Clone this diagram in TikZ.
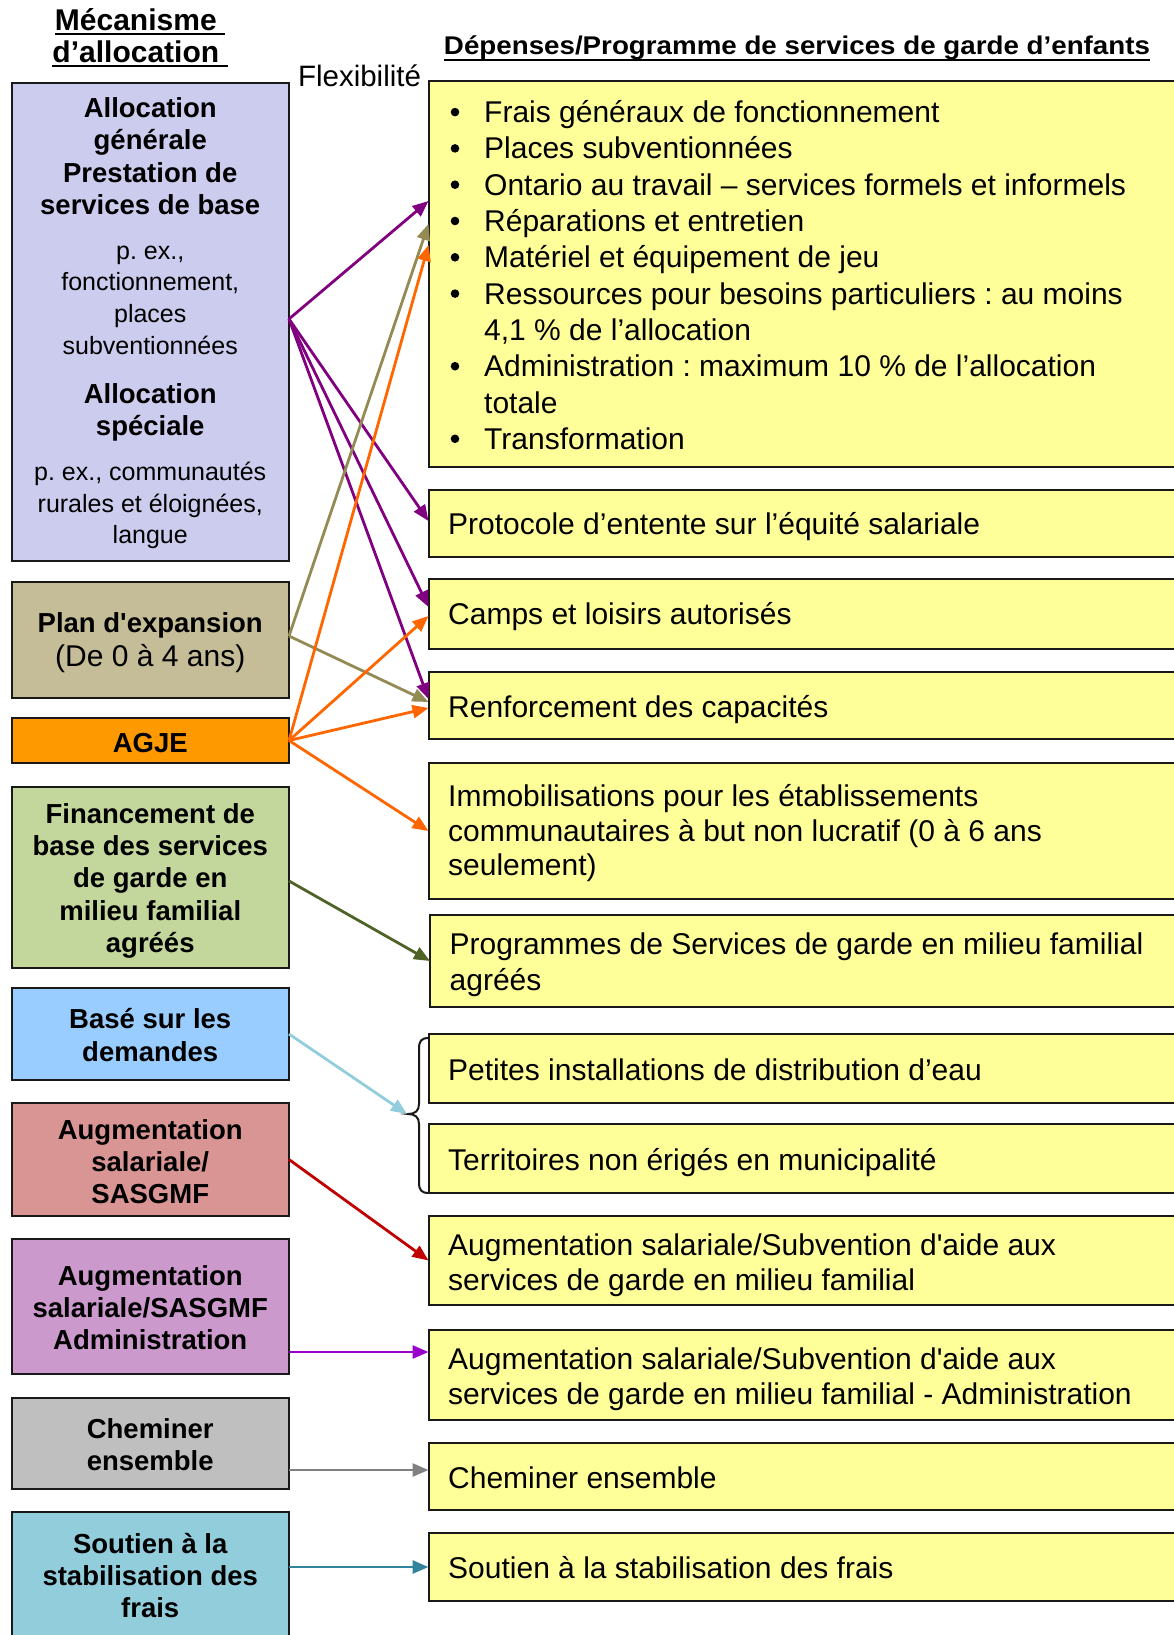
\documentclass[tikz,border=0pt]{standalone}
\usepackage{fontspec}
\setmainfont{Liberation Sans}
\usepackage{graphicx}
\usetikzlibrary{arrows.meta,calc}
\definecolor{cLav}{RGB}{204,204,238}
\definecolor{cTan}{RGB}{196,189,151}
\definecolor{cOrg}{RGB}{255,153,0}
\definecolor{cGrn}{RGB}{195,214,155}
\definecolor{cSky}{RGB}{153,204,255}
\definecolor{cRose}{RGB}{217,149,148}
\definecolor{cOrch}{RGB}{204,153,204}
\definecolor{cGry}{RGB}{191,191,191}
\definecolor{cAqua}{RGB}{146,205,220}
\definecolor{cYel}{RGB}{255,255,153}
\definecolor{aPur}{RGB}{128,0,128}
\definecolor{aKha}{RGB}{148,138,84}
\definecolor{aOrg}{RGB}{255,102,0}
\definecolor{aOli}{RGB}{79,98,40}
\definecolor{aSky}{RGB}{146,205,220}
\definecolor{aRed}{RGB}{192,0,0}
\definecolor{aVio}{RGB}{153,0,204}
\definecolor{aGry}{RGB}{128,128,128}
\definecolor{aTeal}{RGB}{49,132,155}
\newcommand\myLbold{\fontsize{27.5}{32.4}\selectfont\bfseries}
\newcommand\myLsmall{\fontsize{25}{31.7}\selectfont}
\newcommand\myRfont{\fontsize{30}{35}\selectfont}
\newcommand\myUl[3]{\setbox0\hbox{#3}\rlap{\rule[-#1]{\wd0}{#2}}\box0}
\newcommand\stC[1]{\begin{tabular}[t]{@{}c@{}}#1\end{tabular}}
\newcommand\stL[1]{\begin{tabular}[t]{@{}l@{}}#1\end{tabular}}
\frenchspacing
\begin{document}
\begin{tikzpicture}[x=1pt,y=-1pt,
  bx/.style={draw=black!90, line width=2pt, inner sep=0pt, outer sep=0pt},
  lbx/.style={bx, minimum width=277.5pt},
  rbx/.style={bx, fill=cYel, minimum width=756.5pt},
  ltxt/.style={anchor=base, inner sep=0pt, font=\myLbold},
  lsml/.style={anchor=base, inner sep=0pt, font=\myLsmall},
  rtxt/.style={anchor=base west, inner sep=0pt, font=\myRfont},
  arr/.style={-{Triangle[length=16pt,width=13pt]}, line width=2.8pt},
]
\useasboundingbox (0,0) rectangle (1173,1635);

% headers
\node[anchor=base, inner sep=0pt, font=\fontsize{30}{32}\selectfont\bfseries] (hL1) at (140,31) {\myUl{4.5pt}{2.2pt}{Mécanisme\ }};
\node[anchor=base, inner sep=0pt, font=\fontsize{30}{32}\selectfont\bfseries] (hL2) at (140,63) {\myUl{4.5pt}{2.2pt}{d’allocation\ }};
\node[anchor=base, inner sep=0pt, font=\fontsize{29.5}{32}\selectfont] (flex) at (359.5,87) {Flexibilité};
\node[anchor=base, inner sep=0pt, font=\fontsize{25.6}{30}\selectfont\bfseries] (hR) at (797,55) {\resizebox{706pt}{\height}{\myUl{6pt}{2pt}{Dépenses/Programme de services de garde d’enfants}}};

% left boxes
\node[lbx, fill=cLav,  minimum height=478pt] (L1) at (150.25,322) {};
\node[lbx, fill=cTan,  minimum height=116pt] (L2) at (150.25,640) {};
\node[lbx, fill=cOrg,  minimum height=45pt]  (L3) at (150.25,740.5) {};
\node[lbx, fill=cGrn,  minimum height=181pt] (L4) at (150.25,877.5) {};
\node[lbx, fill=cSky,  minimum height=92pt]  (L5) at (150.25,1034) {};
\node[lbx, fill=cRose, minimum height=113pt] (L6) at (150.25,1159.5) {};
\node[lbx, fill=cOrch, minimum height=135pt] (L7) at (150.25,1306.5) {};
\node[lbx, fill=cGry,  minimum height=91pt]  (L8) at (150.25,1443.5) {};
\node[lbx, fill=cAqua, minimum height=128pt] (L9) at (150.25,1576) {};

% left texts
\node[ltxt] (tL1a) at (150.25,117.4) {\stC{Allocation\\générale\\Prestation de\\services de base}};
\node[lsml] (tL1b) at (150.25,259.2) {\stC{p. ex.,\\fonctionnement,\\places\\subventionnées}};
\node[ltxt] (tL1c) at (150.25,403) {\stC{Allocation\\spéciale}};
\node[lsml] (tL1d) at (150.25,480.3) {\stC{p. ex., communautés\\rurales et éloignées,\\langue}};
\node[ltxt] (tL2a) at (150.25,632.5) {Plan d\textquotesingle expansion};
\node[anchor=base, inner sep=0pt, font=\fontsize{30}{34}\selectfont] (tL2b) at (150.25,666) {(De 0 à 4 ans)};
\node[ltxt] (tL3) at (150.25,752) {AGJE};
\node[ltxt] (tL4) at (150.25,823) {\stC{Financement de\\base des services\\de garde en\\milieu familial\\agréés}};
\node[ltxt] (tL5) at (150.25,1028.7) {\stC{Basé sur les\\demandes}};
\node[ltxt] (tL6) at (150.25,1139) {\stC{Augmentation\\salariale/\\SASGMF}};
\node[ltxt] (tL7) at (150.25,1285) {\stC{Augmentation\\salariale/SASGMF\\Administration}};
\node[ltxt] (tL8) at (150.25,1438.5) {\stC{Cheminer\\ensemble}};
\node[ltxt] (tL9) at (150.25,1553) {\stC{Soutien à la\\stabilisation des\\frais}};

% right boxes
\node[rbx, minimum height=386pt] (R1)  at (806.75,274) {};
\node[rbx, minimum height=67pt]  (R2)  at (806.75,523.5) {};
\node[rbx, minimum height=70pt]  (R3)  at (806.75,614) {};
\node[rbx, minimum height=67pt]  (R4)  at (806.75,705.5) {};
\node[rbx, minimum height=136pt] (R5)  at (806.75,831) {};
\node[rbx, minimum height=92pt]  (R6)  at (808.25,961) {};
\node[rbx, minimum height=69pt]  (R7)  at (806.75,1068.5) {};
\node[rbx, minimum height=69pt]  (R8)  at (806.75,1158.5) {};
\node[rbx, minimum height=89pt]  (R9)  at (806.75,1260.5) {};
\node[rbx, minimum height=90pt]  (R10) at (806.75,1375) {};
\node[rbx, minimum height=67pt]  (R11) at (806.75,1476.5) {};
\node[rbx, minimum height=68pt]  (R12) at (806.75,1567) {};

% right texts
\node[rtxt, font=\fontsize{30}{36.3}\selectfont] (tR1) at (484,122.6) {\stL{Frais généraux de fonctionnement\\
Places subventionnées\\
Ontario au travail – services formels et informels\\
Réparations et entretien\\
Matériel et équipement de jeu\\
Ressources pour besoins particuliers : au moins\\
4,1 \% de l’allocation\\
Administration : maximum 10 \% de l’allocation\\
totale\\
Transformation}};
\foreach \r in {0,1,2,3,4,5,7,9}
  \fill[black] (455,{122.6+36.3*\r-10.5}) circle (4.3pt);
\node[rtxt] (tR2)  at (448,534.5) {Protocole d’entente sur l’équité salariale};
\node[rtxt] (tR3)  at (448,624) {Camps et loisirs autorisés};
\node[rtxt] (tR4)  at (448,717) {Renforcement des capacités};
\node[rtxt, font=\fontsize{30}{34.5}\selectfont] (tR5) at (448,806.6) {\stL{Immobilisations pour les établissements\\communautaires à but non lucratif (0 à 6 ans\\seulement)}};
\node[rtxt, font=\fontsize{30}{35.4}\selectfont] (tR6) at (449.5,954.7) {\stL{Programmes de Services de garde en milieu familial\\agréés}};
\node[rtxt] (tR7)  at (448,1080) {Petites installations de distribution d’eau};
\node[rtxt] (tR8)  at (448,1170.5) {Territoires non érigés en municipalité};
\node[rtxt, font=\fontsize{30}{35.5}\selectfont] (tR9) at (448,1255) {\stL{Augmentation salariale/Subvention d\textquotesingle aide aux\\services de garde en milieu familial}};
\node[rtxt, font=\fontsize{30}{34.3}\selectfont] (tR10) at (448,1369.7) {\stL{Augmentation salariale/Subvention d\textquotesingle aide aux\\services de garde en milieu familial - Administration}};
\node[rtxt] (tR11) at (448,1488.5) {Cheminer ensemble};
\node[rtxt] (tR12) at (448,1578) {Soutien à la stabilisation des frais};

% brace
\coordinate (btip) at (407,1114);
\draw[line width=2pt, black!90] (429,1038) .. controls (421,1038) and (419,1041) .. (419,1049) -- (419,1104) .. controls (419,1111) and (415,1114) .. (408,1114) .. controls (415,1114) and (419,1117) .. (419,1124) -- (419,1182) .. controls (419,1190) and (421,1193) .. (429,1193);

% arrows
\draw[arr, aPur] ([yshift=3pt]L1.east) -- ([yshift=-120pt]R1.north west);
\draw[arr, aPur] ([yshift=3pt]L1.east) -- ([yshift=-31pt]R2.north west);
\draw[arr, aPur] ([yshift=3pt]L1.east) -- ([yshift=-28pt]R3.north west);
\draw[arr, aPur] ([yshift=3pt]L1.east) -- ([yshift=-27pt]R4.north west);
\draw[arr, aKha] ([yshift=4pt]L2.east) -- ([yshift=-143pt]R1.north west);
\draw[arr, aKha] ([yshift=4pt]L2.east) -- ([yshift=-30pt]R4.north west);
\draw[arr, aOrg] (L3.east) -- ([yshift=-164pt]R1.north west);
\draw[arr, aOrg] (L3.east) -- ([yshift=-37pt]R3.north west);
\draw[arr, aOrg] (L3.east) -- ([yshift=-36pt]R4.north west);
\draw[arr, aOrg] (L3.east) -- (R5.west);
\draw[arr, aOli] ([yshift=-3.5pt]L4.east) -- (R6.west);
\draw[arr, aSky] (L5.east) -- (btip);
\draw[arr, aRed] (L6.east) -- (R9.west);
\coordinate (tV) at ([yshift=-22pt]R10.north west);
\draw[arr, aVio] (L7.east |- tV) -- (tV);
\coordinate (tG) at ([yshift=-27pt]R11.north west);
\draw[arr, aGry] (L8.east |- tG) -- (tG);
\draw[arr, aTeal] (L9.east |- R12.west) -- (R12.west);
\end{tikzpicture}
\end{document}
